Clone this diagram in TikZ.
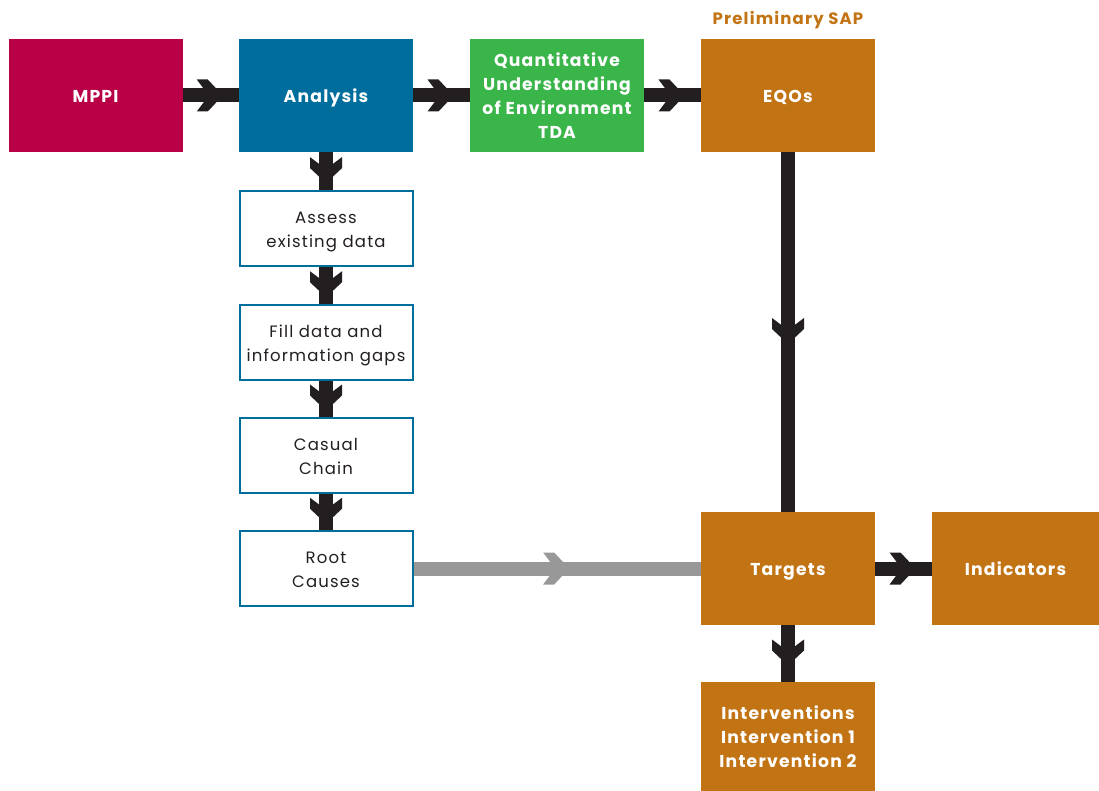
\documentclass[tikz,border=0pt]{standalone}
\usepackage{fontspec}
\setmainfont{Poppins}[LetterSpace=7]
\usetikzlibrary{decorations.markings}
\definecolor{crim}{RGB}{185,0,70}
\definecolor{blu}{RGB}{0,110,157}
\definecolor{grn}{RGB}{58,181,74}
\definecolor{org}{RGB}{194,116,20}
\definecolor{ink}{RGB}{35,31,32}
\definecolor{gry}{RGB}{152,152,152}
\newcommand{\bx}[1]{\raisebox{-2.5pt}[\height][\depth]{\begin{tabular}{@{}c@{}}#1\end{tabular}}}
\begin{document}
\begin{tikzpicture}[x=1pt,y=-1pt,
  box/.style={minimum width=174pt, minimum height=113pt, inner sep=0pt, align=center, text=white, font=\bfseries\fontsize{17.2}{24}\selectfont},
  wbox/.style={draw=blu, line width=2pt, fill=white, minimum width=173pt, minimum height=75pt, inner sep=0pt, align=center, text=ink, font=\fontsize{16.5}{24}\selectfont},
  conn/.style={line width=14pt, draw=#1, postaction={decorate, decoration={markings, mark=at position 0.5 with {\fill[#1] (-14pt,16pt)--(-3pt,16pt)--(12pt,0pt)--(-3pt,-16pt)--(-14pt,-16pt)--(-2pt,0pt)--cycle;}}}},
  conn/.default=ink
]
\fill[white] (0,0) rectangle (1099,791);
\useasboundingbox (0,0) rectangle (1099,791);

\node[box, fill=crim] (mppi) at (95.5,95.5) {\bx{MPPI}};
\node[box, fill=blu] (analysis) at (326,95.5) {\bx{Analysis}};
\node[box, fill=grn] (quant) at (557,95.5) {\bx{Quantitative\\Understanding\\of Environment\\TDA}};
\node[box, fill=org] (eqos) at (788,95.5) {\bx{EQOs}};
\node[text=org, font=\bfseries\fontsize{16.5}{18}\selectfont] (sap) at (788,20) {Preliminary SAP};

\node[wbox] (assess) at (326,228.5) {\bx{Assess\\existing data}};
\node[wbox] (fill) at (326,342) {\bx{Fill data and\\information gaps}};
\node[wbox] (casual) at (326,455) {\bx{Casual\\Chain}};
\node[wbox] (root) at (326,568.5) {\bx{Root\\Causes}};

\node[box, fill=org] (targets) at (788,568.5) {\bx{Targets}};
\node[box, fill=org, minimum width=167pt] (ind) at (1015.5,568.5) {\bx{Indicators}};
\node[box, fill=org, minimum height=109pt] (interv) at (788,736.5) {\bx{Interventions\\Intervention 1\\Intervention 2}};

\draw[conn] (mppi) -- (analysis);
\draw[conn] (analysis) -- (quant);
\draw[conn] (quant) -- (eqos);
\draw[conn] (analysis) -- (assess);
\draw[conn] (assess) -- (fill);
\draw[conn] (fill) -- (casual);
\draw[conn] (casual) -- (root);
\draw[conn] (eqos) -- (targets);
\draw[conn=gry] (root) -- (targets);
\draw[conn] (targets) -- (ind);
\draw[conn] (targets) -- (interv);
\end{tikzpicture}
\end{document}
